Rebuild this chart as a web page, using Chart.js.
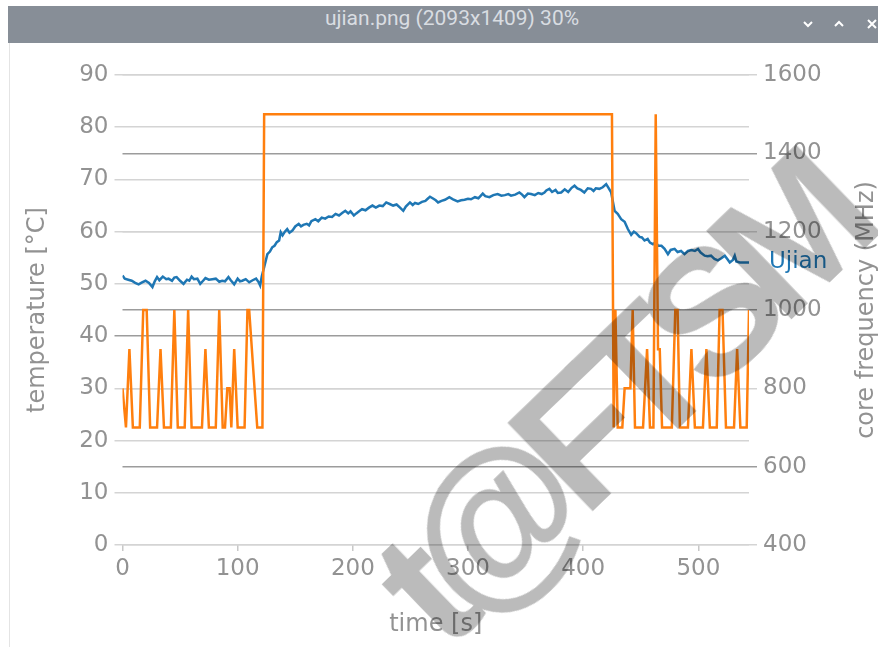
<!DOCTYPE html>
<html>
<head>
<meta charset="utf-8">
<script src="https://cdn.jsdelivr.net/npm/chart.js@4/dist/chart.umd.min.js"></script>
<style>
  html,body{margin:0;padding:0;background:#fff;}
  body{width:878px;height:647px;overflow:hidden;position:relative;}
  #bar{position:absolute;left:8px;top:6px;width:870px;height:37px;background:#878e97;}
  #bar .ttl{position:absolute;left:0;width:888px;top:0;height:37px;line-height:37px;text-align:center;
    font:21px Roboto, "Noto Sans", sans-serif;color:#d9dde2;}
  #bar svg{position:absolute;top:13px;}
  #edge{position:absolute;left:9px;top:43px;width:1px;height:604px;background:#e4e4e4;}
  #wrap{position:absolute;left:0;top:0;width:878px;height:647px;}
  #wm{position:absolute;left:618px;top:402px;transform:translate(-50%,-50%) rotate(-44deg);
    font:bold 178px "Liberation Sans", sans-serif;letter-spacing:-20px;color:#bbbbbb;mix-blend-mode:multiply;
    white-space:nowrap;line-height:1;pointer-events:none;}
</style>
</head>
<body>
<div id="bar">
  <div class="ttl">ujian.png (2093x1409) 30%</div>
  <svg style="left:794px" width="12" height="10"><polyline points="2,3 6,7 10,3" fill="none" stroke="#fff" stroke-width="2"/></svg>
  <svg style="left:825px" width="12" height="10"><polyline points="2,7 6,3 10,7" fill="none" stroke="#fff" stroke-width="2"/></svg>
  <svg style="left:858px" width="12" height="10"><path d="M2,1 L10,9 M10,1 L2,9" fill="none" stroke="#fff" stroke-width="2"/></svg>
</div>
<div id="edge"></div>
<div id="wrap"><canvas id="c" width="878" height="647"></canvas></div>
<div id="wm">t@FTSM</div>
<script>
// ---- data ----
const seriesName = 'Ujian';
const xTitle = 'time [s]';
const yTitle = 'temperature [°C]';
const y1Title = 'core frequency (MHz)';

const xTicks = [0, 100, 200, 300, 400, 500];
const tempTicks = [0, 10, 20, 30, 40, 50, 60, 70, 80, 90];
const freqTicks = [400, 600, 800, 1000, 1200, 1400, 1600];

// temperature (°C) versus time (s)
const tempTime = [
  0, 2, 5, 8, 11, 14, 17, 20, 23, 26,
  28, 30, 32, 35, 38, 40, 43, 45, 47, 50,
  53, 56, 58, 60, 62, 65, 67.5, 70, 72, 75,
  78, 81, 84, 86.5, 89, 92, 94, 97, 100, 102,
  104, 107, 110, 113, 116, 118, 119.5, 121, 123, 125.8,
  128, 130, 132, 134, 136, 137.4, 139, 141, 143, 145,
  147.5, 150, 153, 155, 157, 160, 162, 164, 167.5, 170,
  173, 176, 179, 182, 185, 188, 191, 193.5, 196, 198,
  200.9, 203, 206, 208, 211, 214, 217, 220, 223, 226,
  229, 232, 235, 238, 241, 243.8, 246, 249.6, 252, 254,
  256.8, 260, 263, 265, 267, 270, 272, 274, 277, 280,
  283.8, 287, 291, 294, 297, 300, 302.6, 306, 309, 312.8,
  315, 318.6, 322, 325.8, 329, 332, 335, 337.4, 341, 344.6,
  347, 349, 352, 354.8, 358, 361, 364, 366.4, 368, 370.7,
  373, 376, 378, 380.9, 384, 387, 390, 392.5, 395, 398,
  401, 404, 406.9, 409, 411, 414, 417, 420, 422, 424.3,
  427.3, 430, 433, 436, 438.8, 441.7, 444, 446, 449, 451,
  453.3, 456, 458, 460.6, 463, 465, 468, 470.7, 473.6, 476,
  479.4, 482, 485, 488, 491, 494, 497, 499.7, 502, 505.5,
  508, 511, 514, 517, 520, 523, 525, 527.3, 530, 531.6,
  533, 536, 539, 542, 544
];
const tempValue = [
  51.6, 51.0, 50.8, 50.6, 50.2, 49.9, 50.3, 50.6, 50.2, 49.4,
  50.5, 51.3, 50.7, 51.4, 50.9, 51.0, 50.6, 51.2, 51.3, 50.6,
  50.0, 50.8, 50.6, 51.4, 50.9, 51.0, 50.0, 50.6, 51.1, 50.8,
  50.9, 51.0, 50.4, 50.6, 50.5, 51.3, 50.7, 49.9, 51.0, 50.5,
  50.6, 50.9, 50.3, 50.7, 51.0, 50.4, 49.7, 51.5, 53.2, 55.7,
  56.2, 57.0, 57.3, 58.0, 58.3, 59.9, 59.3, 60.0, 60.5, 59.8,
  60.2, 61.0, 61.5, 61.0, 61.3, 61.5, 61.2, 62.0, 62.4, 62.0,
  62.7, 62.5, 62.9, 62.8, 63.4, 63.1, 63.6, 64.0, 63.5, 63.9,
  63.1, 63.5, 64.0, 64.3, 64.1, 64.6, 65.0, 64.6, 65.0, 64.9,
  65.6, 65.3, 65.0, 65.2, 64.6, 64.0, 64.8, 65.6, 65.1, 65.5,
  65.3, 65.7, 65.9, 66.3, 66.7, 66.3, 66.0, 65.6, 65.9, 66.1,
  66.6, 66.2, 65.8, 66.0, 66.1, 66.3, 66.2, 66.6, 66.4, 67.3,
  66.8, 66.6, 67.0, 67.2, 66.9, 67.0, 67.2, 66.9, 67.1, 67.5,
  67.1, 66.6, 67.3, 67.2, 67.0, 67.4, 67.2, 67.5, 67.9, 68.2,
  67.6, 68.0, 67.4, 67.5, 68.1, 67.6, 68.4, 68.8, 68.3, 68.0,
  67.5, 68.3, 68.2, 67.8, 68.3, 68.2, 68.5, 69.1, 68.4, 67.5,
  64.0, 63.4, 62.4, 61.9, 60.5, 59.4, 60.0, 59.7, 59.0, 58.9,
  58.3, 58.6, 57.9, 57.6, 58.0, 57.3, 57.3, 56.7, 55.7, 56.5,
  56.7, 56.1, 56.3, 55.7, 56.3, 56.5, 56.3, 56.7, 56.0, 55.4,
  55.3, 55.4, 54.8, 54.5, 54.9, 55.4, 54.8, 54.1, 54.6, 55.4,
  54.3, 54.1, 54.1, 54.1, 54.1
];

// core frequency (MHz) versus time (s)
const freqTime = [
  0, 3, 6, 9, 15, 18, 21, 24, 30, 33,
  36, 42, 45, 48, 54, 57, 60, 69, 72, 75,
  81, 84, 87, 89, 91, 93, 94.5, 97, 100, 106,
  108.5, 110, 117, 121.5, 123, 425, 426.5, 428, 430, 434,
  436, 441, 443, 445, 452, 455.5, 458, 461, 463, 465,
  466.5, 468.5, 477, 480, 482, 484, 491, 494, 497, 504,
  507, 510, 516, 518.5, 521, 524, 531, 533.7, 536.5, 542,
  544
];
const freqValue = [
  800, 700, 900, 700, 700, 1000, 1000, 700, 700, 900,
  700, 700, 1000, 700, 700, 1000, 700, 700, 900, 700,
  700, 1000, 700, 700, 800, 800, 700, 900, 700, 700,
  1000, 1000, 700, 700, 1500, 1500, 700, 1000, 700, 700,
  800, 800, 1000, 700, 700, 900, 700, 700, 1500, 900,
  900, 700, 700, 1000, 1000, 700, 700, 900, 700, 700,
  900, 700, 700, 1000, 1000, 700, 700, 900, 700, 700,
  1000
];

// ---- chart ----
const BLUE = '#1f77b4', ORANGE = '#ff7f0e';
const LIGHT = '#d4d4d4', DARK = '#9c9c9c', TXT = '#929292';
Chart.defaults.font.family = '"DejaVu Sans", sans-serif';

const labelsPlugin = {
  id: 'labelsPlugin',
  afterDatasetsDraw(chart) {
    const ctx = chart.ctx;
    // series name at the end of the temperature line
    const meta = chart.getDatasetMeta(0);
    const pt = meta.data[meta.data.length - 1];
    ctx.save();
    ctx.font = '23px "DejaVu Sans", sans-serif';
    ctx.fillStyle = BLUE;
    ctx.textAlign = 'left';
    ctx.textBaseline = 'middle';
    ctx.fillText(chart.data.datasets[0].label, pt.x + 20, pt.y);
    ctx.restore();
    // right axis title, reading bottom to top
    const a = chart.chartArea;
    ctx.save();
    ctx.translate(chart.width - 11, (a.top + a.bottom) / 2);
    ctx.rotate(-Math.PI / 2);
    ctx.font = '24px "DejaVu Sans", sans-serif';
    ctx.fillStyle = TXT;
    ctx.textAlign = 'center';
    ctx.textBaseline = 'middle';
    ctx.fillText(y1Title, 0, 0);
    ctx.restore();
  }
};

new Chart(document.getElementById('c'), {
  type: 'line',
  data: {
    datasets: [
      {
        label: seriesName,
        data: tempTime.map((t, i) => ({x: t, y: tempValue[i]})),
        yAxisID: 'y',
        borderColor: BLUE,
        borderWidth: 2.5,
        pointRadius: 0,
        tension: 0,
        order: 1
      },
      {
        label: 'frequency',
        data: freqTime.map((t, i) => ({x: t, y: freqValue[i]})),
        yAxisID: 'y1',
        borderColor: ORANGE,
        borderWidth: 2.5,
        pointRadius: 0,
        tension: 0,
        order: 0
      }
    ]
  },
  options: {
    responsive: false,
    animation: false,
    layout: {padding: {top: 75, left: 0, right: 0, bottom: 0}},
    plugins: {legend: {display: false}, tooltip: {enabled: false}},
    scales: {
      x: {
        type: 'linear',
        min: 0, max: 544,
        afterBuildTicks: s => { s.ticks = xTicks.map(v => ({value: v})); },
        afterFit: s => { s.height = 102; },
        grid: {drawOnChartArea: false, color: '#c8c8c8', lineWidth: 1.5, tickLength: 6},
        border: {display: false},
        ticks: {color: TXT, font: {size: 23}, padding: 4, maxRotation: 0, callback: v => String(v)},
        title: {display: true, text: xTitle, color: TXT, font: {size: 24}, padding: {top: 0, bottom: 8}}
      },
      y: {
        position: 'left',
        min: 0, max: 90,
        afterBuildTicks: s => { s.ticks = tempTicks.map(v => ({value: v})); },
        afterFit: s => { s.width = 122.5; },
        grid: {
          color: c => (c.tick && c.tick.value === 40) ? DARK : LIGHT,
          lineWidth: 1.5, tickLength: 8
        },
        border: {display: false},
        ticks: {color: TXT, font: {size: 23}, padding: 6, callback: v => String(v)},
        title: {display: true, text: yTitle, color: TXT, font: {size: 24}, padding: {top: 23, bottom: 0}}
      },
      y1: {
        position: 'right',
        min: 400, max: 1600,
        afterBuildTicks: s => { s.ticks = freqTicks.map(v => ({value: v})); },
        afterFit: s => { s.width = 129; },
        grid: {
          color: c => (c.tick && [1400, 1000, 600].includes(c.tick.value)) ? DARK : LIGHT,
          lineWidth: 1.5, tickLength: 8
        },
        border: {display: false},
        ticks: {color: TXT, font: {size: 23}, padding: 6, callback: v => String(v)},
        title: {display: false}
      }
    }
  },
  plugins: [labelsPlugin]
});
</script>
</body>
</html>
